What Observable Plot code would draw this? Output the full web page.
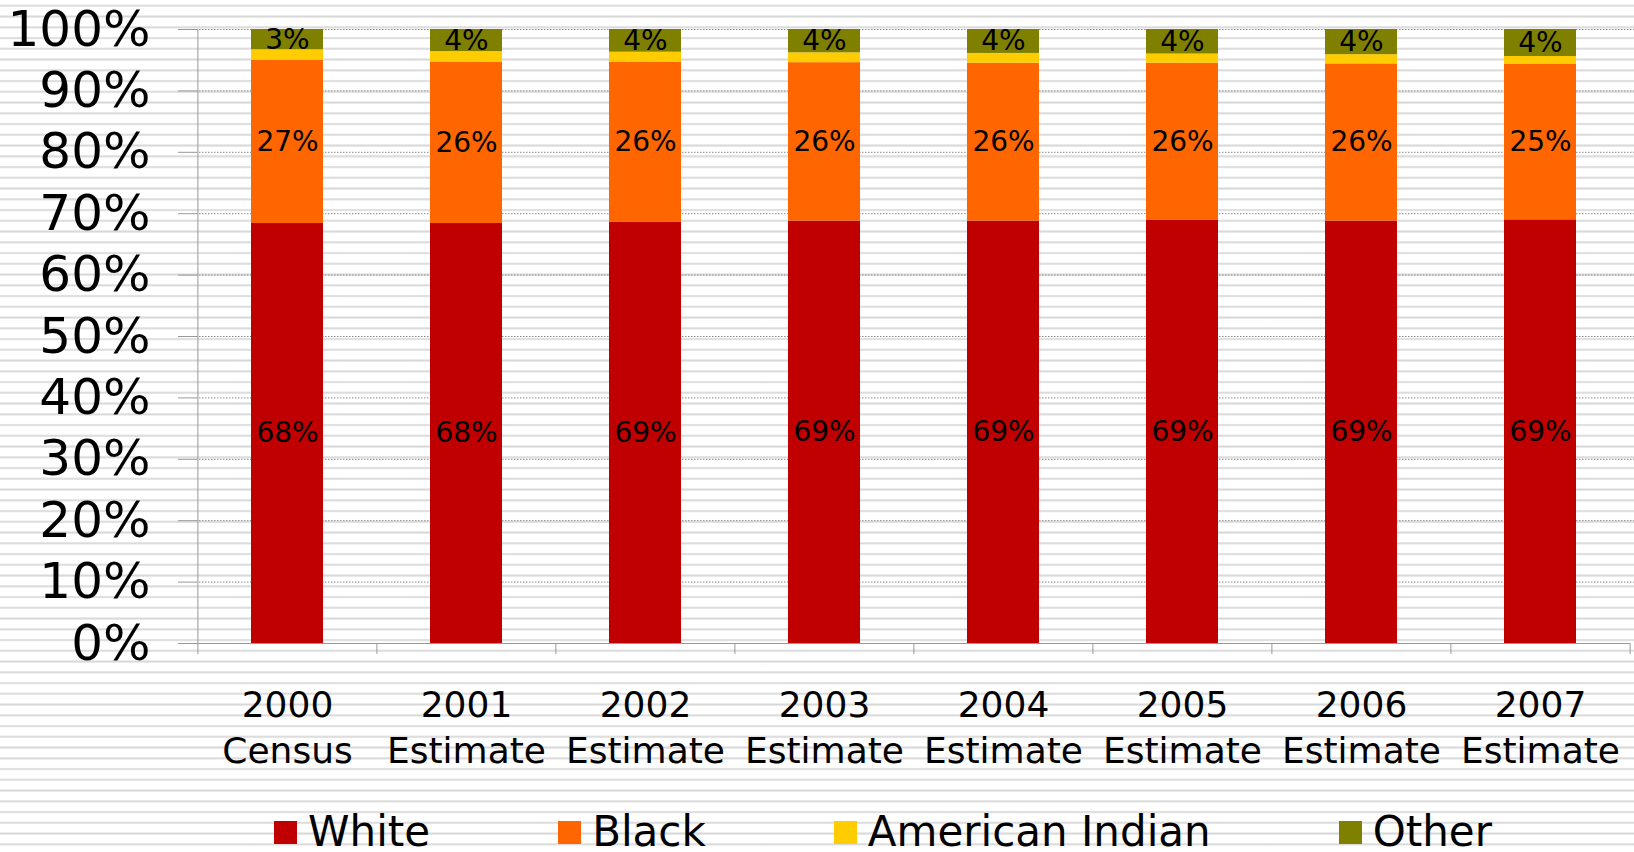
<!DOCTYPE html>
<html>
<head>
<meta charset="utf-8">
<script src="https://cdn.jsdelivr.net/npm/d3@7"></script>
<script src="https://cdn.jsdelivr.net/npm/@observablehq/plot@0.6"></script>
<style>
  html, body { margin: 0; padding: 0; }
  body {
    width: 1634px; height: 852px; overflow: hidden; position: relative;
    font-family: "DejaVu Sans", Verdana, sans-serif;
    background: repeating-linear-gradient(to bottom,
      #ffffff 0px, #ffffff 4.2px, #e9e9e9 4.8px, #d8d8d8 5.8px, #e9e9e9 6.8px, #ffffff 7.4px, #ffffff 10.75px);
  }
  #chart svg { background: transparent; display: block; }
  #legend {
    position: absolute; left: 274px; top: 811px;
    display: flex; align-items: center; font-size: 42px; line-height: 42px; color: #000;
  }
  #legend .item { display: flex; align-items: center; margin-right: 128px; white-space: nowrap; }
  #legend .sw { width: 23px; height: 23px; margin-right: 11px; box-sizing: border-box; }
</style>
</head>
<body>
<div id="chart"></div>
<div id="legend"></div>
<script>
// ---- data ----
const categories = ["2000\nCensus", "2001\nEstimate", "2002\nEstimate", "2003\nEstimate",
                    "2004\nEstimate", "2005\nEstimate", "2006\nEstimate", "2007\nEstimate"];
const series = ["White", "Black", "American Indian", "Other"];
const white  = [68.4, 68.4, 68.6, 68.8, 68.8, 68.9, 68.8, 69.0];
const black  = [26.6, 26.3, 26.1, 25.8, 25.7, 25.6, 25.6, 25.3];
const amInd  = [1.7, 1.7, 1.6, 1.6, 1.6, 1.5, 1.5, 1.3];
const other  = [3.3, 3.6, 3.7, 3.8, 3.9, 4.0, 4.1, 4.4];
const colors = ["#C00000", "#FF6600", "#FFCC00", "#808000"];
const showLabel = [true, true, false, true];
const yTicks = [0, 10, 20, 30, 40, 50, 60, 70, 80, 90, 100];

// ---- table ----
const seriesValues = [white, black, amInd, other];
const rows = [];
categories.forEach((c, i) => {
  seriesValues.forEach((arr, j) => {
    rows.push({cat: c, series: series[j], value: arr[i],
               label: showLabel[j] ? Math.round(arr[i]) + "%" : ""});
  });
});

const W = 1634, H = 790;
const mL = 196, mR = 4, mT = 29, mB = 147;
const step = (W - mL - mR) / categories.length;

const plot = Plot.plot({
  width: W, height: H,
  marginLeft: mL, marginRight: mR, marginTop: mT, marginBottom: mB,
  style: {background: "transparent", fontFamily: "'DejaVu Sans', Verdana, sans-serif", color: "#000"},
  x: {domain: categories, paddingInner: 0.6, paddingOuter: 0.3, align: 0.5},
  y: {domain: [0, 100]},
  color: {domain: series, range: colors},
  marks: [
    Plot.ruleY(yTicks.filter(d => d > 0), {stroke: "#8c8c8c", strokeDasharray: "1.5,1.5", strokeWidth: 1, insetRight: -4}),
    Plot.barY(rows, Plot.stackY({x: "cat", y: "value", fill: "series", order: series})),
    Plot.text(rows, Plot.stackY({x: "cat", y: "value", z: "series", order: series, text: "label", fontSize: 28, fill: "#000"})),
    // y axis line
    Plot.ruleX([categories[0]], {dx: -step / 2, stroke: "#999"}),
    // x axis baseline
    Plot.ruleY([0], {stroke: "#999", insetLeft: -18}),
    // category boundary ticks
    Plot.ruleX(categories, {dx: -step / 2, y1: 0, y2: 0, insetBottom: -11, stroke: "#999"}),
    Plot.ruleX([categories[categories.length - 1]], {dx: step / 2, y1: 0, y2: 0, insetBottom: -11, stroke: "#999"}),
    Plot.axisY(yTicks, {tickFormat: d => d + "%", fontSize: 50, tickSize: 18, tickPadding: 28, stroke: "#999", fill: "#000", label: null}),
    Plot.axisX({fontSize: 36, tickSize: 0, tickPadding: 41, lineHeight: 1.28, fill: "#000", label: null})
  ]
});
document.getElementById("chart").appendChild(plot);

// ---- legend ----
const legend = document.getElementById("legend");
series.forEach((s, j) => {
  const item = document.createElement("div");
  item.className = "item";
  const sw = document.createElement("span");
  sw.className = "sw";
  sw.style.background = colors[j];
  const t = document.createElement("span");
  t.textContent = s;
  item.appendChild(sw); item.appendChild(t);
  legend.appendChild(item);
});
</script>
</body>
</html>
